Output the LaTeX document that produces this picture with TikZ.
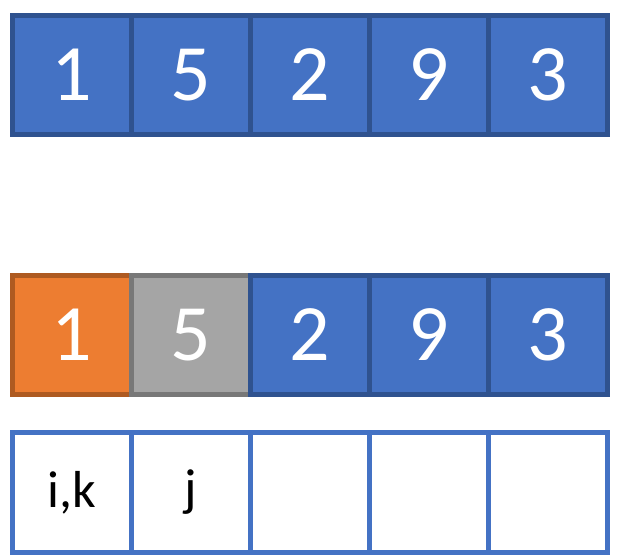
\documentclass[tikz,border=0pt]{standalone}
\usepackage{fontspec}
\setmainfont{Carlito}
\definecolor{bfill}{HTML}{4472C4}
\definecolor{bline}{HTML}{2F528F}
\definecolor{ofill}{HTML}{ED7D31}
\definecolor{oline}{HTML}{AE5A21}
\definecolor{gfill}{HTML}{A5A5A5}
\definecolor{gline}{HTML}{787878}
\begin{document}
\begin{tikzpicture}[x=1pt,y=-1pt,
  cell/.style={rectangle,minimum width=119pt,minimum height=119pt,inner sep=0pt,line width=4.8pt,font=\fontsize{80}{80}\selectfont,text=white},
  bluecell/.style={cell,fill=bfill,draw=bline},
  orangecell/.style={cell,fill=ofill,draw=oline},
  graycell/.style={cell,fill=gfill,draw=gline},
  whitecell/.style={cell,fill=white,draw=bfill,minimum height=120pt,text=black,font=\fontsize{52}{52}\selectfont}]
\useasboundingbox (0,0) rectangle (618,559);
% row 1
\node[bluecell] (a1) at (72,75) {1};
\node[bluecell] (a2) at (191,75) {5};
\node[bluecell] (a3) at (310,75) {2};
\node[bluecell] (a4) at (429,75) {9};
\node[bluecell] (a5) at (548,75) {3};
% row 2
\node[orangecell] (b1) at (72,335) {1};
\node[graycell] (b2) at (191,335) {5};
\node[bluecell] (b3) at (310,335) {2};
\node[bluecell] (b4) at (429,335) {9};
\node[bluecell] (b5) at (548,335) {3};
% row 3
\node[whitecell] (c1) at (72,492.5) {i,k};
\node[whitecell] (c2) at (191,492.5) {j};
\node[whitecell] (c3) at (310,492.5) {};
\node[whitecell] (c4) at (429,492.5) {};
\node[whitecell] (c5) at (548,492.5) {};
\end{tikzpicture}
\end{document}
